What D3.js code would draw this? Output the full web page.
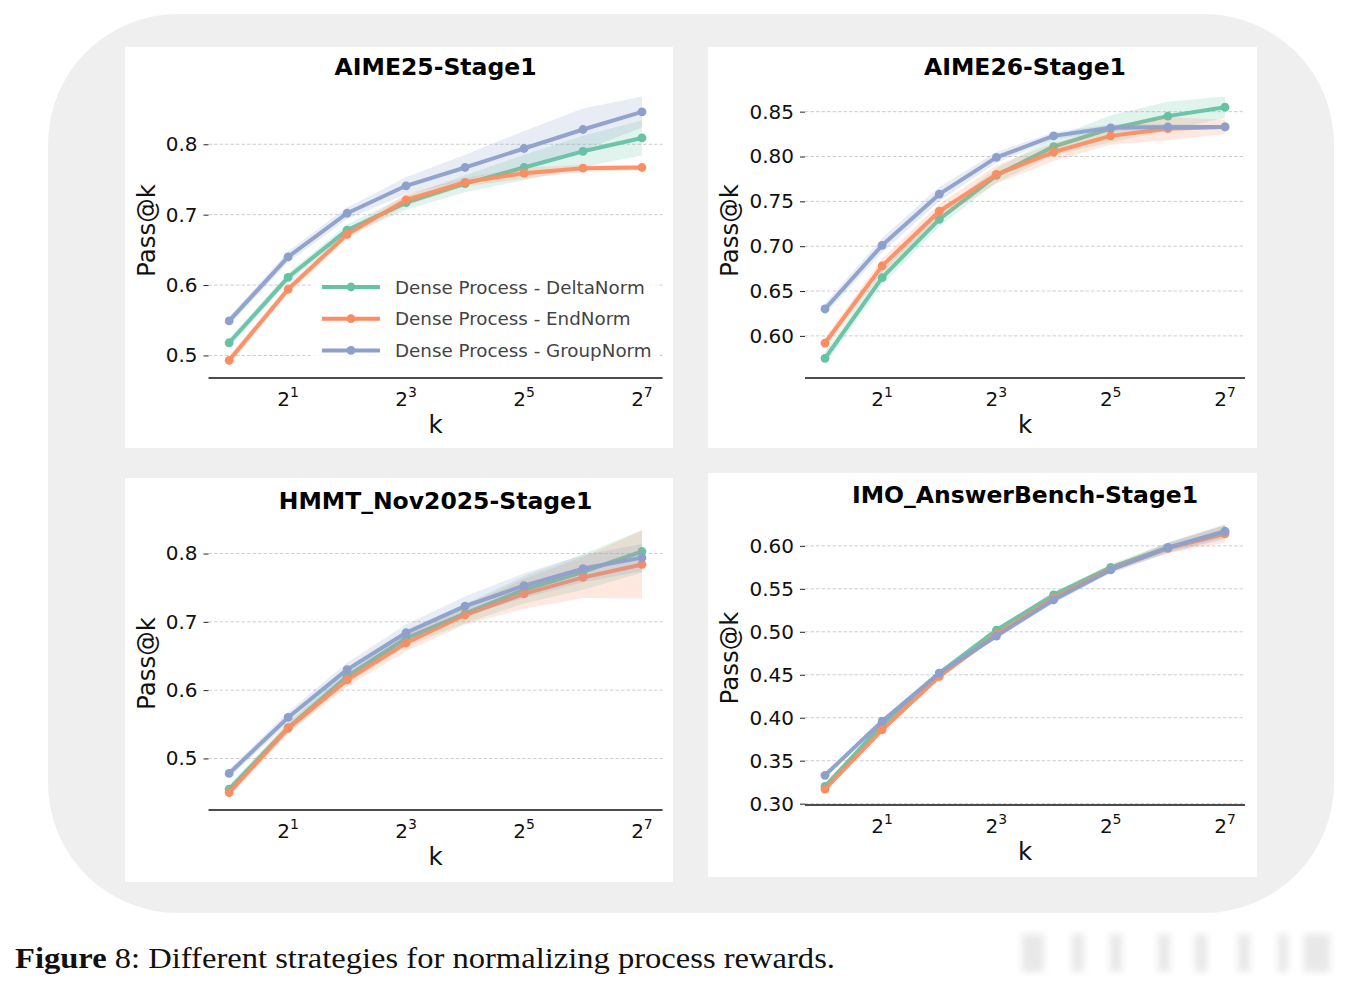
<!DOCTYPE html>
<html>
<head>
<meta charset="utf-8">
<script src="https://cdn.jsdelivr.net/npm/d3@7"></script>
<style>
  body { margin: 0; background: #fff; }
  svg { display: block; }
</style>
</head>
<body>
<div id="wrapper"></div>
<script>
// k values on the x axis (log2)
const kValues = [1, 2, 4, 8, 16, 32, 64, 128];
const xTickValues = [2, 8, 32, 128];
const xTickExponents = ["1", "3", "5", "7"];

const seriesNames = ["Dense Process - DeltaNorm", "Dense Process - EndNorm", "Dense Process - GroupNorm"];
const seriesColors = ["#66c2a5", "#fc8d62", "#8da0cb"];

const panelTitles = ["AIME25-Stage1", "AIME26-Stage1", "HMMT_Nov2025-Stage1", "IMO_AnswerBench-Stage1"];

// AIME25
const aime25Delta = [0.518, 0.611, 0.678, 0.717, 0.744, 0.767, 0.790, 0.809];
const aime25DeltaBand = [0.006, 0.006, 0.008, 0.010, 0.012, 0.018, 0.022, 0.025];
const aime25End = [0.493, 0.594, 0.672, 0.721, 0.746, 0.759, 0.766, 0.767];
const aime25EndBand = [0.006, 0.006, 0.006, 0.008, 0.006, 0.008, 0.005, 0.004];
const aime25Group = [0.549, 0.640, 0.702, 0.741, 0.767, 0.794, 0.821, 0.846];
const aime25GroupBand = [0.006, 0.008, 0.008, 0.012, 0.018, 0.025, 0.030, 0.022];
const aime25Ticks = [0.5, 0.6, 0.7, 0.8];

// AIME26
const aime26Delta = [0.575, 0.665, 0.730, 0.779, 0.811, 0.831, 0.845, 0.855];
const aime26DeltaBand = [0.007, 0.008, 0.008, 0.008, 0.010, 0.015, 0.016, 0.012];
const aime26End = [0.592, 0.678, 0.739, 0.780, 0.805, 0.823, 0.831, 0.833];
const aime26EndBand = [0.006, 0.008, 0.008, 0.010, 0.010, 0.010, 0.013, 0.008];
const aime26Group = [0.630, 0.701, 0.758, 0.799, 0.823, 0.832, 0.833, 0.833];
const aime26GroupBand = [0.006, 0.008, 0.008, 0.006, 0.004, 0.004, 0.003, 0.002];
const aime26Ticks = [0.60, 0.65, 0.70, 0.75, 0.80, 0.85];

// HMMT Nov 2025
const hmmtDelta = [0.455, 0.545, 0.620, 0.676, 0.712, 0.747, 0.773, 0.803];
const hmmtDeltaBand = [0.006, 0.008, 0.010, 0.012, 0.014, 0.020, 0.026, 0.031];
const hmmtEnd = [0.450, 0.544, 0.615, 0.669, 0.710, 0.741, 0.765, 0.784];
const hmmtEndBand = [0.006, 0.008, 0.010, 0.012, 0.014, 0.022, 0.030, 0.050];
const hmmtGroup = [0.478, 0.560, 0.630, 0.684, 0.723, 0.753, 0.778, 0.794];
const hmmtGroupBand = [0.006, 0.008, 0.010, 0.012, 0.014, 0.018, 0.020, 0.020];
const hmmtTicks = [0.5, 0.6, 0.7, 0.8];

// IMO AnswerBench
const imoDelta = [0.320, 0.392, 0.452, 0.502, 0.543, 0.575, 0.598, 0.616];
const imoDeltaBand = [0.003, 0.003, 0.003, 0.003, 0.003, 0.004, 0.006, 0.008];
const imoEnd = [0.317, 0.386, 0.448, 0.497, 0.539, 0.573, 0.597, 0.614];
const imoEndBand = [0.003, 0.003, 0.003, 0.003, 0.003, 0.004, 0.006, 0.010];
const imoGroup = [0.333, 0.396, 0.452, 0.495, 0.537, 0.572, 0.598, 0.617];
const imoGroupBand = [0.003, 0.003, 0.003, 0.003, 0.004, 0.004, 0.006, 0.008];
const imoTicks = [0.30, 0.35, 0.40, 0.45, 0.50, 0.55, 0.60];

const font = "DejaVu Sans, sans-serif";

const panels = [
    { title: panelTitles[0], means: [aime25Delta, aime25End, aime25Group], bands: [aime25DeltaBand, aime25EndBand, aime25GroupBand],
      ticks: aime25Ticks, fmt: ".1f", card: [125, 47, 548, 401], box: { left: 208.5, right: 662.6, top: 83, bottom: 378 }, ylabOff: 54, legend: true },
    { title: panelTitles[1], means: [aime26Delta, aime26End, aime26Group], bands: [aime26DeltaBand, aime26EndBand, aime26GroupBand],
      ticks: aime26Ticks, fmt: ".2f", card: [708, 47, 549, 401], box: { left: 805, right: 1245, top: 83, bottom: 378 }, ylabOff: 67 },
    { title: panelTitles[2], means: [hmmtDelta, hmmtEnd, hmmtGroup], bands: [hmmtDeltaBand, hmmtEndBand, hmmtGroupBand],
      ticks: hmmtTicks, fmt: ".1f", card: [125, 478, 548, 404], box: { left: 208.5, right: 662.6, top: 517, bottom: 810 }, ylabOff: 54 },
    { title: panelTitles[3], means: [imoDelta, imoEnd, imoGroup], bands: [imoDeltaBand, imoEndBand, imoGroupBand],
      ticks: imoTicks, fmt: ".2f", card: [708, 473, 549, 404], box: { left: 805, right: 1245, top: 511, bottom: 805 }, ylabOff: 67 }
];

const svg = d3.select("#wrapper").append("svg")
    .attr("width", 1350)
    .attr("height", 985);

const defs = svg.append("defs");
defs.append("filter").attr("id", "blur")
    .append("feGaussianBlur").attr("stdDeviation", 3.5);

// grey rounded background
svg.append("rect")
    .attr("x", 48).attr("y", 14)
    .attr("width", 1286).attr("height", 899)
    .attr("rx", 130).attr("ry", 130)
    .attr("fill", "#efefef");

panels.forEach((p) => {
    const g = svg.append("g");
    g.append("rect")
        .attr("x", p.card[0]).attr("y", p.card[1])
        .attr("width", p.card[2]).attr("height", p.card[3])
        .attr("fill", "#fff");

    const b = p.box;
    // y extent from the bands, with a 5% margin like matplotlib
    let lo = d3.min(p.means, (m, i) => d3.min(m, (v, j) => v - p.bands[i][j]));
    let hi = d3.max(p.means, (m, i) => d3.max(m, (v, j) => v + p.bands[i][j]));
    const pad = (hi - lo) * 0.05;

    const x = d3.scaleLog().base(2)
        .domain([Math.pow(2, -0.35), Math.pow(2, 7.35)])
        .range([b.left, b.right]);
    const y = d3.scaleLinear()
        .domain([lo - pad, hi + pad])
        .range([b.bottom, b.top]);

    // grid
    g.selectAll(".grid").data(p.ticks).join("line")
        .attr("x1", b.left).attr("x2", b.right)
        .attr("y1", (d) => y(d)).attr("y2", (d) => y(d))
        .attr("stroke", "#c8c8c8").attr("stroke-width", 0.9)
        .attr("stroke-dasharray", "3.5,2");

    // y ticks
    const yAxis = d3.axisLeft(y).tickValues(p.ticks).tickFormat(d3.format(p.fmt)).tickSize(5).tickPadding(6);
    const ya = g.append("g").attr("transform", `translate(${b.left},0)`).call(yAxis);
    ya.select(".domain").remove();
    ya.selectAll(".tick line").attr("stroke", "#222").attr("stroke-width", 1);
    ya.selectAll(".tick text").attr("font-family", font).attr("font-size", 20).attr("fill", "#111");

    // x axis spine
    g.append("line")
        .attr("x1", b.left).attr("x2", b.right)
        .attr("y1", b.bottom).attr("y2", b.bottom)
        .attr("stroke", "#111").attr("stroke-width", 1.3);

    const xt = g.selectAll(".xt").data(xTickValues).join("text")
        .attr("x", (d) => x(d)).attr("y", b.bottom + 27.5)
        .attr("text-anchor", "middle")
        .attr("font-family", font).attr("font-size", 20).attr("fill", "#111");
    xt.append("tspan").text("2");
    xt.append("tspan").attr("font-size", 14).attr("dy", -9)
        .text((d, i) => xTickExponents[i]);

    // series
    p.means.forEach((m, i) => {
        const band = p.bands[i];
        const rows = kValues.map((k, j) => ({ k: k, v: m[j], lo: m[j] - band[j], hi: m[j] + band[j] }));
        g.append("path").datum(rows)
            .attr("d", d3.area().x((d) => x(d.k)).y0((d) => y(d.lo)).y1((d) => y(d.hi)))
            .attr("fill", seriesColors[i]).attr("fill-opacity", 0.2);
        g.append("path").datum(rows)
            .attr("d", d3.line().x((d) => x(d.k)).y((d) => y(d.v)))
            .attr("fill", "none").attr("stroke", seriesColors[i])
            .attr("stroke-width", 4).attr("stroke-linejoin", "round").attr("stroke-opacity", 0.95);
        g.selectAll(null).data(rows).join("circle")
            .attr("cx", (d) => x(d.k)).attr("cy", (d) => y(d.v))
            .attr("r", 4.4).attr("fill", seriesColors[i]);
    });

    // title
    g.append("text")
        .attr("x", (b.left + b.right) / 2).attr("y", b.top - 8)
        .attr("text-anchor", "middle")
        .attr("font-family", font).attr("font-weight", "bold").attr("font-size", 23.5)
        .attr("fill", "#000").text(p.title);

    // axis labels
    g.append("text")
        .attr("x", (b.left + b.right) / 2).attr("y", b.bottom + 55)
        .attr("text-anchor", "middle")
        .attr("font-family", font).attr("font-size", 24.5).attr("fill", "#111").text("k");
    g.append("text")
        .attr("transform", `translate(${b.left - p.ylabOff},${(b.top + b.bottom) / 2}) rotate(-90)`)
        .attr("text-anchor", "middle")
        .attr("font-family", font).attr("font-size", 24.5).attr("fill", "#111").text("Pass@k");

    if (p.legend) {
        const lg = g.append("g").attr("transform", "translate(313,271)");
        lg.append("rect")
            .attr("width", 346).attr("height", 99).attr("rx", 4)
            .attr("fill", "#fff").attr("fill-opacity", 0.8);
        seriesNames.forEach((name, i) => {
            const yy = 16 + i * 31.7;
            lg.append("line").attr("x1", 9).attr("x2", 67).attr("y1", yy).attr("y2", yy)
                .attr("stroke", seriesColors[i]).attr("stroke-width", 4);
            lg.append("circle").attr("cx", 38).attr("cy", yy).attr("r", 4.4).attr("fill", seriesColors[i]);
            lg.append("text").attr("x", 82).attr("y", yy).attr("dy", "0.36em")
                .attr("font-family", font).attr("font-size", 18.3).attr("fill", "#444")
                .text(name);
        });
    }
});

// caption
const cap = svg.append("text")
    .attr("x", 15).attr("y", 968)
    .attr("font-family", "Liberation Serif, DejaVu Serif, serif")
    .attr("font-size", 29).attr("fill", "#111")
    .attr("textLength", 820).attr("lengthAdjust", "spacingAndGlyphs");
cap.append("tspan").attr("font-weight", "bold").text("Figure");
cap.append("tspan").text(" 8: Different strategies for normalizing process rewards.");

// faint blurred watermark at the bottom right
const wm = svg.append("g").attr("filter", "url(#blur)").attr("fill", "#e8e8e8");
[[1022, 22], [1072, 12], [1110, 12], [1158, 12], [1195, 12], [1238, 12], [1278, 10], [1304, 26]].forEach((r) => {
    wm.append("rect").attr("x", r[0]).attr("y", 934).attr("width", r[1]).attr("height", 38);
});
</script>
</body>
</html>
